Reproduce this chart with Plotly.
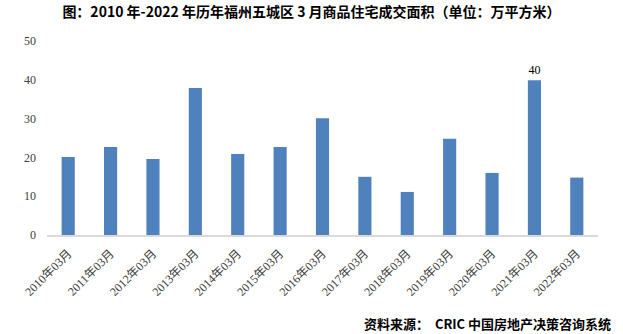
import plotly.graph_objects as go

categories = ["2010年03月", "2011年03月", "2012年03月", "2013年03月", "2014年03月",
              "2015年03月", "2016年03月", "2017年03月", "2018年03月", "2019年03月",
              "2020年03月", "2021年03月", "2022年03月"]
values = [20.1, 22.7, 19.6, 37.9, 20.9, 22.7, 30.1, 15.0, 11.1, 24.8, 16.0, 39.9, 14.8]
labels = ["", "", "", "", "", "", "", "", "", "", "", "40", ""]
y_ticks = [0, 10, 20, 30, 40, 50]

title_text = "图：2010 年-2022 年历年福州五城区 3 月商品住宅成交面积（单位：万平方米）"
source_text = "资料来源：  CRIC 中国房地产决策咨询系统"

serif = "Liberation Serif, Times New Roman, Noto Sans CJK SC, serif"
cjk_bold = "Noto Sans CJK SC, sans-serif"

fig = go.Figure(go.Bar(
    x=categories, y=values,
    marker=dict(color="#4F81BD", line=dict(width=0)),
    text=labels, textposition="outside", cliponaxis=False,
    textfont=dict(family=serif, size=12, color="#000000"),
    hoverinfo="skip",
))

fig.update_layout(
    width=623, height=334,
    margin=dict(l=47, r=25, t=41, b=99),
    paper_bgcolor="white", plot_bgcolor="white",
    bargap=0.69,
    showlegend=False,
    title=dict(text="<b>" + title_text + "</b>", x=0.5, xanchor="center",
               y=1 - 12 / 334, yanchor="middle", yref="container",
               font=dict(family=cjk_bold, size=14, color="#000000")),
    xaxis=dict(showline=True, linecolor="#d9d9d9", linewidth=1.5,
               ticks="", tickangle=-45, showgrid=False, zeroline=False,
               tickfont=dict(family=serif, size=12, color="#404040"),
               ticklabelstandoff=5),
    yaxis=dict(range=[0, 50], tickvals=y_ticks, showgrid=False, zeroline=False,
               showline=False, ticks="",
               tickfont=dict(family=serif, size=12, color="#404040"),
               ticklabelstandoff=10),
    annotations=[dict(text="<b>" + source_text + "</b>", xref="paper", yref="paper",
                      x=1 + 15 / 551, y=-(323 - 234.5) / 193.5, xanchor="right",
                      yanchor="middle", showarrow=False,
                      font=dict(family=cjk_bold, size=13, color="#000000"))],
)

fig.write_html("out.html")
